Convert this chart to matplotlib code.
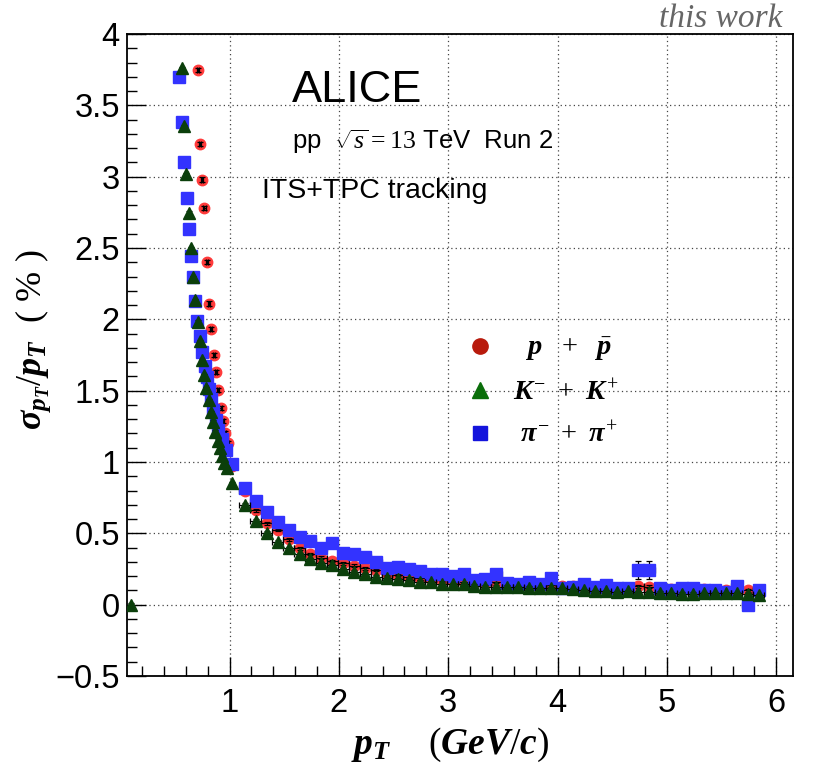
import matplotlib
matplotlib.use('Agg')

import matplotlib.pyplot as plt
import numpy as np
from matplotlib.lines import Line2D
from matplotlib.ticker import MultipleLocator, FuncFormatter

plt.rcParams['font.family'] = ['Liberation Sans', 'DejaVu Sans']
plt.rcParams['mathtext.fontset'] = 'custom'
plt.rcParams['mathtext.rm'] = 'Liberation Serif'
plt.rcParams['mathtext.it'] = 'Liberation Serif:italic:bold'
plt.rcParams['mathtext.bf'] = 'Liberation Serif:bold'
plt.rcParams['mathtext.sf'] = 'Liberation Serif:italic'

# pT bins above ~1.1 GeV/c (common to all species)
pt_high = [1.14, 1.24, 1.34, 1.44, 1.54, 1.64, 1.74, 1.84, 1.94, 2.04, 2.14, 2.24,
           2.34, 2.44, 2.54, 2.64, 2.74, 2.84, 2.94, 3.04, 3.14, 3.24, 3.34, 3.44,
           3.54, 3.64, 3.74, 3.84, 3.94, 4.04, 4.14, 4.24, 4.34, 4.44, 4.54, 4.64,
           4.74, 4.84, 4.94, 5.04, 5.14, 5.24, 5.34, 5.44, 5.54, 5.64, 5.74, 5.84]

# protons
pt_p_low = [0.708, 0.729, 0.75, 0.771, 0.792, 0.813, 0.834, 0.855, 0.876, 0.897,
            0.918, 0.94, 0.961, 0.982, 1.024]
res_p_low = [3.75, 3.23, 2.98, 2.78, 2.40, 2.11, 1.93, 1.75, 1.63, 1.505,
             1.38, 1.287, 1.205, 1.135, 0.975]
res_p_high = [0.80, 0.66, 0.57, 0.523, 0.458, 0.395, 0.355, 0.33, 0.306, 0.29, 0.273, 0.255,
              0.243, 0.22, 0.208, 0.196, 0.185, 0.18, 0.173, 0.166, 0.161, 0.155, 0.15, 0.16,
              0.15, 0.145, 0.14, 0.135, 0.135, 0.13, 0.13, 0.125, 0.12, 0.12, 0.115, 0.11,
              0.13, 0.125, 0.115, 0.11, 0.11, 0.11, 0.11, 0.105, 0.105, 0.10, 0.10, 0.095]

# kaons
pt_k_low = [0.10, 0.565, 0.585, 0.606, 0.626, 0.647, 0.667, 0.687, 0.708, 0.728, 0.749,
            0.769, 0.789, 0.81, 0.83, 0.851, 0.871, 0.891, 0.912, 0.932, 0.953, 0.973, 1.024]
res_k_low = [0.0, 3.76, 3.355, 3.016, 2.747, 2.50, 2.294, 2.135, 1.983, 1.846, 1.715,
             1.61, 1.516, 1.434, 1.348, 1.283, 1.212, 1.149, 1.096, 1.042, 0.995, 0.956, 0.851]
res_k_high = [0.699, 0.589, 0.505, 0.44, 0.395, 0.355, 0.318, 0.29, 0.278, 0.248, 0.231, 0.213,
              0.196, 0.189, 0.18, 0.173, 0.161, 0.157, 0.147, 0.143, 0.143, 0.133, 0.126, 0.126,
              0.126, 0.122, 0.119, 0.115, 0.115, 0.115, 0.108, 0.103, 0.096, 0.096, 0.089, 0.096,
              0.089, 0.089, 0.084, 0.08, 0.077, 0.077, 0.08, 0.08, 0.08, 0.08, 0.073, 0.068]

# pions
pt_pi_low = [0.54, 0.562, 0.586, 0.608, 0.629, 0.65, 0.663, 0.684, 0.705, 0.729, 0.75,
             0.772, 0.79, 0.812, 0.83, 0.851, 0.873, 0.891, 0.928, 0.967, 1.024]
res_pi_low = [3.70, 3.38, 3.10, 2.85, 2.633, 2.446, 2.294, 2.13, 1.99, 1.88, 1.773,
              1.673, 1.598, 1.51, 1.441, 1.364, 1.294, 1.224, 1.159, 1.084, 0.984]
res_pi_high = [0.82, 0.729, 0.647, 0.577, 0.523, 0.477, 0.446, 0.395, 0.43, 0.36, 0.353, 0.332,
               0.301, 0.26, 0.266, 0.248, 0.238, 0.215, 0.215, 0.201, 0.215, 0.173, 0.178, 0.215,
               0.15, 0.145, 0.157, 0.145, 0.19, 0.115, 0.126, 0.143, 0.122, 0.138, 0.115, 0.115,
               0.243, 0.243, 0.115, 0.103, 0.115, 0.115, 0.103, 0.103, 0.087, 0.131, 0.0, 0.103]
err_pi_high = [0.01] * 36 + [0.065, 0.065] + [0.01] * 10

# name, x, y, yerr, marker, size, colour, errorbars drawn above marker
species = [
    ('p', pt_p_low + pt_high, res_p_low + res_p_high, [0.015] * 15 + [0.01] * 48,
     'o', 7.5, '#ff3a3a', True),
    ('pi', pt_pi_low + pt_high, res_pi_low + res_pi_high, [0.01] * 21 + err_pi_high,
     's', 8, '#3333ff', False),
    ('K', pt_k_low + pt_high, res_k_low + res_k_high, [0.01] * 71,
     '^', 8, '#0b3f0b', False),
]

fig = plt.figure(figsize=(8.14, 7.76), dpi=100)
ax = fig.add_axes([0.1557, 0.1289, 0.8181, 0.8273])

for i, (name, x, y, yerr, mk, ms, col, err_on_top) in enumerate(species):
    x = np.array(x)
    xerr = np.where(x > 1.1, 0.05, 0.01)
    z = 3 + 2 * i
    ax.errorbar(x, y, xerr=xerr, yerr=yerr, fmt='none', ecolor='black',
                elinewidth=0.9, capsize=2, capthick=0.9,
                zorder=z + (1.5 if err_on_top else 0))
    ax.plot(x, y, ls='none', marker=mk, ms=ms, color=col, mec=col, zorder=z + 1)

ax.set_xlim(0.06, 6.15)
ax.set_ylim(-0.5, 4.0)
ax.xaxis.set_major_locator(MultipleLocator(1))
ax.xaxis.set_minor_locator(MultipleLocator(0.2))
ax.yaxis.set_major_locator(MultipleLocator(0.5))
ax.yaxis.set_minor_locator(MultipleLocator(0.1))
fmt = FuncFormatter(lambda v, p: ('%g' % v).replace('-', '\u2212'))
ax.xaxis.set_major_formatter(fmt)
ax.yaxis.set_major_formatter(fmt)
ax.tick_params(which='both', direction='in', top=False, right=False, width=1.0)
ax.tick_params(which='major', length=14)
ax.tick_params(which='minor', length=7)
ax.tick_params(axis='y', labelsize=23.5, pad=5)
ax.tick_params(axis='x', labelsize=23.5, pad=9)
ax.grid(True, which='major', color='#444444', linestyle=(0, (1, 2.5)), linewidth=0.9)
ax.set_axisbelow(True)
for s in ax.spines.values():
    s.set_linewidth(1.3)

fig.text(0.041, 0.562, r'$\sigma_{p_{T}}/p_{T}\ \ (\ \%\ )$', rotation=90,
         ha='center', va='center', fontsize=26)
fig.text(0.553, 0.04, r'$p_{T}\ \ \ \ (GeV/c)$', ha='center', va='center', fontsize=27)

ax.text(0.248, 0.894, 'ALICE', transform=ax.transAxes, fontsize=32.5, va='baseline')
ax.text(0.248, 0.821, r'pp  $\sqrt{\mathsf{s}} = 13$ TeV  Run 2', transform=ax.transAxes,
        fontsize=18.5, va='baseline')
ax.text(0.203, 0.745, 'ITS+TPC tracking', transform=ax.transAxes, fontsize=20.5,
        va='baseline')

fig.text(0.961, 0.965, 'this work', ha='right', va='baseline', fontsize=24,
         family='Liberation Serif', style='italic', color='#666666')

handles = [
    Line2D([], [], ls='none', marker='o', ms=11, color='#b81a0c'),
    Line2D([], [], ls='none', marker='^', ms=11, color='#0a6e0a'),
    Line2D([], [], ls='none', marker='s', ms=10, color='#1414dc'),
]
labels = [r'$\ \ p\ \ +\ \ \bar{p}$', r'$K^{-}\ +\ K^{+}$', r'$\ \pi^{-}\ +\ \pi^{+}$']
ax.legend(handles, labels, loc='center left', bbox_to_anchor=(0.509, 0.442),
          frameon=False, fontsize=20.5, handlelength=1.0, handletextpad=0.65,
          labelspacing=0.55, borderpad=0, borderaxespad=0)

fig.savefig('out.png', dpi=100)
